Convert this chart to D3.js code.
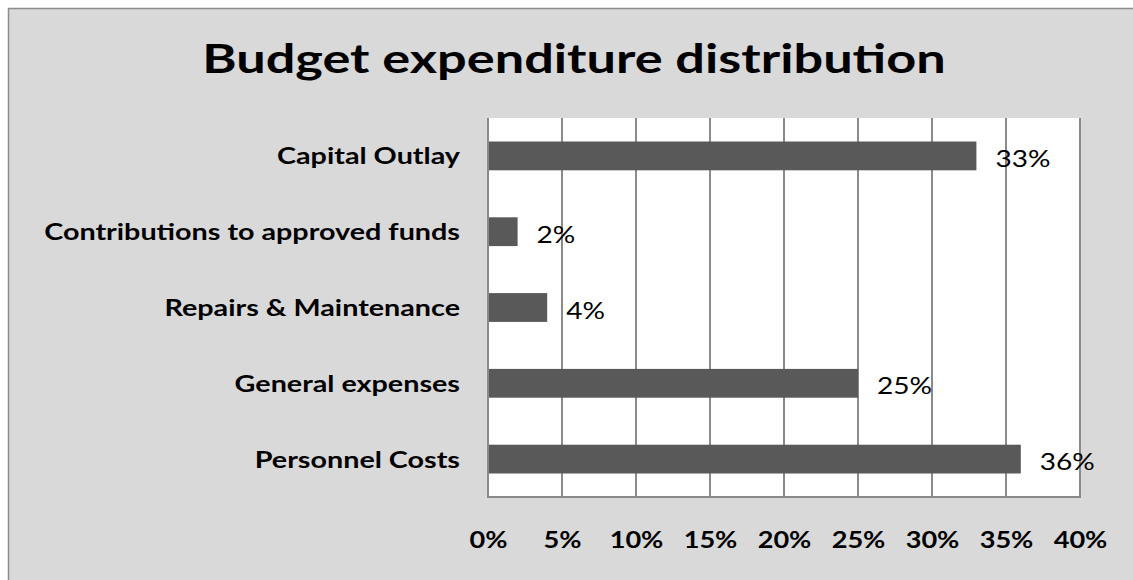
<!DOCTYPE html>
<html>
<head>
<meta charset="utf-8">
<script src="https://cdn.jsdelivr.net/npm/d3@7"></script>
<style>
  html, body { margin: 0; padding: 0; background: #ffffff; }
  svg text { font-family: Lato, "Open Sans", sans-serif; }
</style>
</head>
<body>
<svg id="chart" width="1133" height="580"></svg>
<script>
// Budget categories, top to bottom
const categories = [
  "Capital Outlay",
  "Contributions to approved funds",
  "Repairs & Maintenance",
  "General expenses",
  "Personnel Costs"
];
// Share of total expenditure, in percent
const shares = [33, 2, 4, 25, 36];
// Axis ticks, in percent
const ticks = [0, 5, 10, 15, 20, 25, 30, 35, 40];

const svg = d3.select("#chart");

// text in this chart is set slightly wide
const stretch = 1.22;
const labelStretch = 1.25;
const titleStretch = 1.275;

// chart frame
svg.append("rect")
  .attr("x", 8.5).attr("y", 8.5)
  .attr("width", 1130).attr("height", 600)
  .attr("fill", "#d9d9d9")
  .attr("stroke", "#8c8c8c").attr("stroke-width", 1.5);

svg.append("text")
  .attr("transform", `translate(574,73) scale(${titleStretch},1)`)
  .attr("text-anchor", "middle")
  .attr("font-size", 41).attr("font-weight", "bold")
  .attr("fill", "#000")
  .text("Budget expenditure distribution");

const plot = { left: 488, top: 118, right: 1080, bottom: 497 };

const x = d3.scaleLinear().domain([0, 40]).range([plot.left, plot.right]);
const y = d3.scaleBand().domain(categories)
  .range([plot.top, plot.bottom]).paddingInner(0.62).paddingOuter(0.31);

// plot area
svg.append("rect")
  .attr("x", plot.left).attr("y", plot.top)
  .attr("width", plot.right - plot.left).attr("height", plot.bottom - plot.top)
  .attr("fill", "#ffffff");

// vertical gridlines
svg.append("g").selectAll("line").data(ticks).join("line")
  .attr("x1", d => Math.round(x(d))).attr("x2", d => Math.round(x(d)))
  .attr("y1", plot.top).attr("y2", plot.bottom)
  .attr("stroke", "#8a8a8a").attr("stroke-width", 2);

// bottom edge
svg.append("line")
  .attr("x1", plot.left - 1).attr("x2", plot.right + 1)
  .attr("y1", plot.bottom).attr("y2", plot.bottom)
  .attr("stroke", "#8a8a8a").attr("stroke-width", 2);

// bars
svg.append("g").selectAll("rect").data(categories).join("rect")
  .attr("x", x(0) + 1)
  .attr("y", d => y(d))
  .attr("width", (d, i) => x(shares[i]) - x(0) - 1)
  .attr("height", y.bandwidth())
  .attr("fill", "#595959");

// value labels
svg.append("g").selectAll("text").data(categories).join("text")
  .attr("transform", (d, i) =>
    `translate(${x(shares[i]) + 19},${y(d) + y.bandwidth() / 2 + 11}) scale(${stretch},1)`)
  .attr("font-size", 23)
  .attr("fill", "#000")
  .text((d, i) => shares[i] + "%");

// category axis
const yAxis = d3.axisLeft(y).tickSize(0).tickPadding(0);
const gy = svg.append("g").attr("transform", `translate(${plot.left},0)`).call(yAxis);
gy.select(".domain").remove();
gy.selectAll("text")
  .attr("x", 0).attr("dy", null).attr("y", 0)
  .attr("transform", `translate(-28,8.5) scale(${labelStretch},1)`)
  .attr("font-size", 23).attr("font-weight", "bold")
  .attr("fill", "#000").style("font-family", "Lato, sans-serif");

// percent axis
const xAxis = d3.axisBottom(x).tickValues(ticks).tickSize(0).tickPadding(0)
  .tickFormat(d => d + "%");
const gx = svg.append("g").attr("transform", `translate(0,548)`).call(xAxis);
gx.select(".domain").remove();
gx.selectAll("text")
  .attr("y", 0).attr("dy", null)
  .attr("transform", `scale(${stretch - 0.04},1)`)
  .attr("font-size", 23).attr("font-weight", "bold")
  .attr("fill", "#000").style("font-family", "Lato, sans-serif");
</script>
</body>
</html>
